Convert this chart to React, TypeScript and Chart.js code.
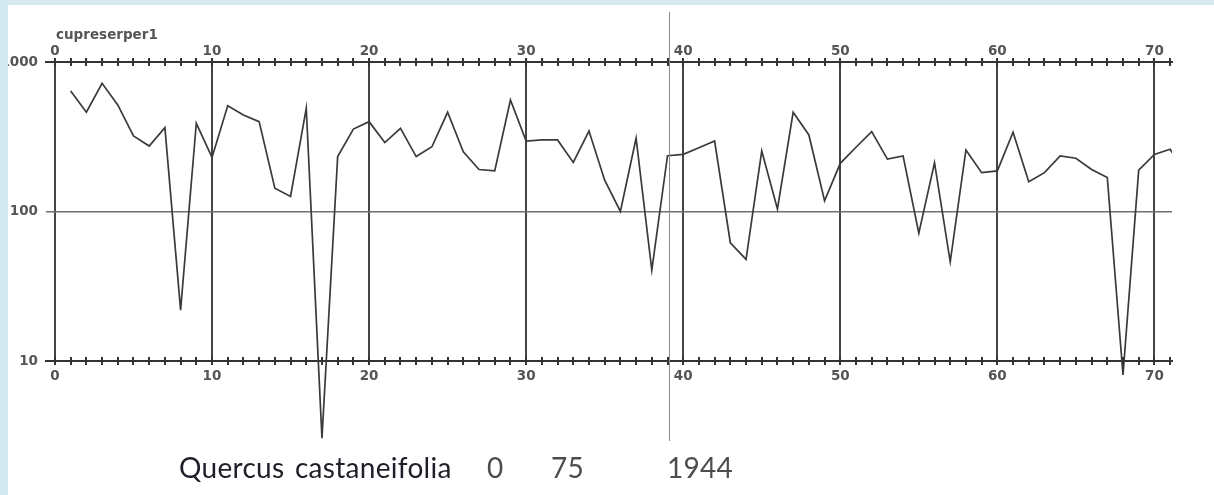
import React, { useEffect, useRef } from "react";
import { Chart, registerables } from "chart.js";

Chart.register(...registerables);

// ---- data ----
const SERIES_NAME = "cupreserper1";
const FIRST_YEAR = 1;
const ringValues = [
  640, 461, 720, 516, 320, 274, 364, 21.9, 389, 230,
  510, 442, 399, 143, 126, 490, 3.05, 233, 356, 399,
  289, 360, 233, 271, 461, 251, 191, 187, 557, 296,
  301, 301, 213, 345, 162, 100, 309, 40.6, 236, 241,
  267, 296, 61.8, 47.9, 254, 104, 461, 325, 118, 210,
  269, 342, 224, 235, 71.5, 212, 46.1, 258, 182, 187,
  339, 158, 182, 235, 227, 191, 169, 8.06, 189, 241,
  261, 178,
];
const yTickValues = [10, 100, 1000];
const X_MIN = -0.57;
const X_MAX = 71.12;
const CURSOR_X = 39.08;
const captionSpecies = "Quercus castaneifolia";
const captionNumbers = ["0", "75", "1944"];
const captionNumberLefts = [487, 551, 667];

const AXIS_COLOR = "#333333";
const LABEL_FONT = { family: "DejaVu Sans", size: 13.5, weight: "bold" as const };
const LABEL_COLOR = "#555555";

const decorPlugin = {
  id: "decor",
  afterDraw(chart: any) {
    const { ctx, chartArea, scales } = chart;
    const x = scales.x;
    ctx.save();
    ctx.strokeStyle = AXIS_COLOR;
    ctx.lineWidth = 2;
    x.ticks.forEach((t: any) => {
      if (!Number.isInteger(t.value)) return;
      const px = Math.round(x.getPixelForValue(t.value));
      [chartArea.top, chartArea.bottom].forEach((py: number) => {
        ctx.beginPath();
        ctx.moveTo(px, py - 4);
        ctx.lineTo(px, py + 4);
        ctx.stroke();
      });
    });
    // cursor line
    ctx.strokeStyle = "#8a8a8a";
    ctx.lineWidth = 1;
    const cx = Math.round(x.getPixelForValue(CURSOR_X)) + 0.5;
    ctx.beginPath();
    ctx.moveTo(cx, 12);
    ctx.lineTo(cx, 441);
    ctx.stroke();
    // series name
    ctx.font = `bold 13.5px "DejaVu Sans"`;
    ctx.fillStyle = LABEL_COLOR;
    ctx.textBaseline = "alphabetic";
    ctx.textAlign = "left";
    ctx.fillText(SERIES_NAME, 56, 39);
    ctx.restore();
  },
};

export default function App() {
  const canvasRef = useRef<HTMLCanvasElement | null>(null);

  useEffect(() => {
    if (!canvasRef.current) return;
    const points = ringValues.map((v, i) => ({ x: FIRST_YEAR + i, y: v }));
    const xTicks = {
      stepSize: 1,
      autoSkip: false,
      includeBounds: false,
      maxRotation: 0,
      minRotation: 0,
      font: LABEL_FONT,
      color: LABEL_COLOR,
      callback: (v: any) => (Number.isInteger(v) && v % 10 === 0 ? String(v) : ""),
    };
    const chart = new Chart(canvasRef.current, {
      type: "line",
      data: {
        datasets: [
          {
            data: points,
            borderColor: "#3a3a3a",
            borderWidth: 1.7,
            pointRadius: 0,
            tension: 0,
            fill: false,
            clip: { left: 5, top: 5, right: 0, bottom: false } as any,
          },
        ],
      },
      options: {
        animation: false,
        responsive: false,
        devicePixelRatio: 1,
        layout: { padding: { left: 0, right: 1214 - 1172, top: 0, bottom: 0 } },
        plugins: { legend: { display: false }, tooltip: { enabled: false } },
        scales: {
          x: {
            type: "linear",
            position: "bottom",
            min: X_MIN,
            max: X_MAX,
            ticks: { ...xTicks, padding: 7 },
            grid: {
              drawTicks: false,
              color: (c: any) =>
                c.tick && Number.isInteger(c.tick.value) && c.tick.value % 10 === 0 ? "#444" : "rgba(0,0,0,0)",
              lineWidth: 2,
            },
            border: { display: true, color: AXIS_COLOR, width: 2 },
            afterFit: (s: any) => {
              s.height = 495 - 361;
            },
          },
          x2: {
            type: "linear",
            position: "top",
            min: X_MIN,
            max: X_MAX,
            ticks: { ...xTicks, padding: 2 },
            grid: { drawTicks: false, drawOnChartArea: false },
            border: { display: true, color: AXIS_COLOR, width: 2 },
            afterFit: (s: any) => {
              s.height = 62;
            },
          },
          y: {
            type: "logarithmic",
            position: "left",
            min: 10,
            max: 1000,
            afterBuildTicks: (s: any) => {
              s.ticks = yTickValues.map((v) => ({ value: v }));
            },
            ticks: {
              font: LABEL_FONT,
              color: LABEL_COLOR,
              padding: 8,
              callback: (v: any) => String(v),
            },
            grid: {
              drawTicks: false,
              color: (c: any) => (c.tick && c.tick.value === 100 ? "#707070" : "rgba(0,0,0,0)"),
              lineWidth: 1.5,
            },
            border: { display: false },
            afterFit: (s: any) => {
              s.width = 46;
            },
          },
        },
      },
      plugins: [decorPlugin],
    });
    return () => chart.destroy();
  }, []);

  const captionStyle = {
    position: "absolute" as const,
    top: 453,
    fontFamily: "Lato, 'Open Sans', sans-serif",
    fontSize: 28,
    lineHeight: 1,
    whiteSpace: "nowrap" as const,
  };

  return (
    <div
      style={{
        position: "fixed",
        left: 0,
        top: 0,
        width: 1214,
        height: 495,
        background: "#ffffff",
        overflow: "hidden",
      }}
    >
      <canvas
        ref={canvasRef}
        width={1214}
        height={495}
        style={{ position: "absolute", left: 0, top: 0, width: 1214, height: 495 }}
      />
      <div style={{ ...captionStyle, left: 179, color: "#1e1e28", letterSpacing: 0.3, wordSpacing: 3 }}>
        {captionSpecies}
      </div>
      {captionNumbers.map((t, i) => (
        <div key={t} style={{ ...captionStyle, left: captionNumberLefts[i], color: "#4c4c4c", letterSpacing: 0.3 }}>
          {t}
        </div>
      ))}
      <div style={{ position: "absolute", left: 0, top: 0, width: 1214, height: 5, background: "#d5e9f0" }} />
      <div style={{ position: "absolute", left: 0, top: 0, width: 8, height: 495, background: "#d5e9f0" }} />
    </div>
  );
}
